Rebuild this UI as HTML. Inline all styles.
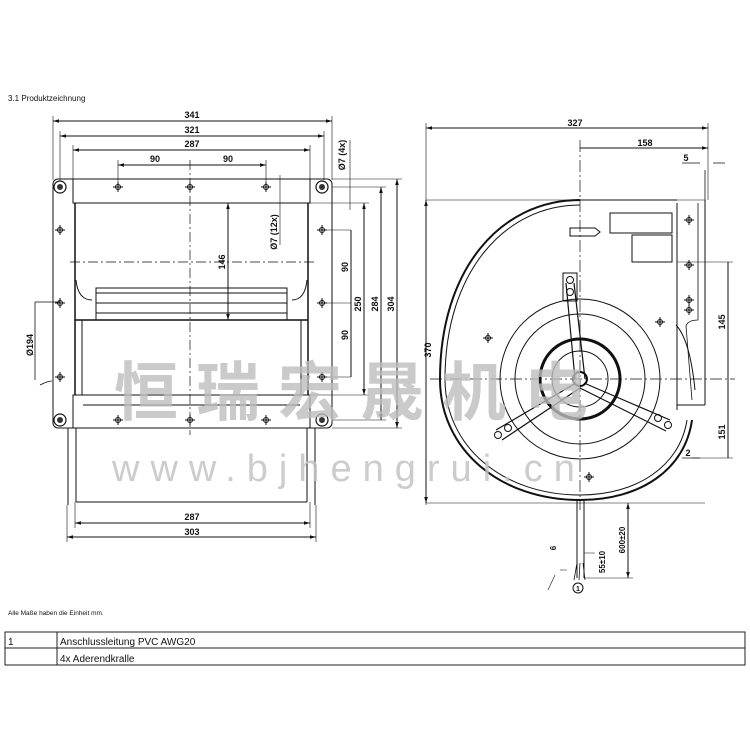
<!DOCTYPE html>
<html><head><meta charset="utf-8"><style>
body{margin:0;background:#fff}
svg{display:block}
text{font-family:"Liberation Sans",sans-serif;fill:#111}
</style></head><body>
<svg width="750" height="750" viewBox="0 0 750 750" xmlns="http://www.w3.org/2000/svg">
<defs>
<marker id="a" viewBox="0 0 10 10" refX="10" refY="5" markerWidth="6" markerHeight="6" orient="auto-start-reverse"><path d="M0,2 L10,5 L0,8 z" fill="#111"/></marker>
<g id="x"><circle r="2.5" fill="none" stroke="#111" stroke-width="1"/><path d="M-5,0H5M0,-5V5" stroke="#111" stroke-width="1"/></g>
<g id="g"><circle r="6" fill="none" stroke="#111" stroke-width="1.2"/><circle r="3" fill="#333"/></g>
</defs>
<text x="8" y="101" font-size="8" fill="#444">3.1 Produktzeichnung</text>
<g stroke="#111" stroke-width="1" fill="none">
<rect x="53" y="179" width="279" height="249" rx="5"/>
<rect x="73" y="179" width="237" height="24"/>
<rect x="73" y="395" width="237" height="33"/>
<line x1="83" y1="405" x2="300" y2="405"/>
<line x1="75" y1="203" x2="75" y2="395" stroke-width="1.5"/>
<line x1="308" y1="203" x2="308" y2="395" stroke-width="1.5"/>
<line x1="75" y1="320" x2="308" y2="320" stroke-width="1.5"/>
<rect x="96" y="288" width="191" height="32"/>
<line x1="96" y1="293" x2="287" y2="293"/>
<line x1="96" y1="303" x2="287" y2="303"/>
<line x1="96" y1="313" x2="287" y2="313"/>
<path d="M76,280 Q78,300 92,300 M307,280 Q305,300 292,300"/>
<line x1="68" y1="428" x2="68" y2="505"/><line x1="76" y1="428" x2="76" y2="502"/>
<line x1="307" y1="428" x2="307" y2="502"/><line x1="315" y1="428" x2="315" y2="505"/>
<line x1="76" y1="502" x2="307" y2="502"/>
<line x1="82" y1="320" x2="82" y2="395"/><line x1="301" y1="320" x2="301" y2="395"/>
<path d="M190,160V435M70,262H315" stroke-dasharray="10,3,2,3" stroke-width="0.7"/>
<path d="M53,121H332" marker-start="url(#a)" marker-end="url(#a)"/>
<path d="M60,136H324" marker-start="url(#a)" marker-end="url(#a)"/>
<path d="M73,150H310" marker-start="url(#a)" marker-end="url(#a)"/>
<path d="M118,165H266" marker-start="url(#a)" marker-end="url(#a)"/>
<path d="M53,116V180M332,116V180M60,131V180M324,131V180M73,145V180M310,145V180M118,160V183M266,160V183" stroke-width="0.6"/>
<path d="M75,523H310" marker-start="url(#a)" marker-end="url(#a)"/>
<path d="M67,537H316" marker-start="url(#a)" marker-end="url(#a)"/>
<path d="M67,505V542M316,505V542M75,502V528M310,502V528" stroke-width="0.6"/>
<path d="M228,203V320" marker-start="url(#a)" marker-end="url(#a)"/>
<path d="M351,230V377" /><path d="M322,230H351M322,303H351M322,377H351" stroke-width="0.6"/>
<path d="M364,203V395" marker-start="url(#a)" marker-end="url(#a)"/>
<path d="M381,187V420" marker-start="url(#a)" marker-end="url(#a)"/>
<path d="M397,179V428" marker-start="url(#a)" marker-end="url(#a)"/>
<path d="M310,203H369M310,395H369M332,187H386M332,420H386M332,179H402M332,428H402" stroke-width="0.6"/>
<path d="M350,140V210M280,175V245" stroke-width="0.6"/>
<path d="M35,302V380M35,302H60" stroke-width="0.8"/>
<path d="M40,385 q8,-4 12,-4" stroke-width="0.8"/>
</g>
<g>
<use href="#x" x="118" y="187"/><use href="#x" x="190" y="187"/><use href="#x" x="266" y="187"/>
<use href="#x" x="118" y="420"/><use href="#x" x="190" y="420"/><use href="#x" x="266" y="420"/>
<use href="#x" x="60" y="230"/><use href="#x" x="322" y="230"/><use href="#x" x="60" y="303"/><use href="#x" x="322" y="303"/><use href="#x" x="60" y="377"/><use href="#x" x="322" y="377"/>
<use href="#g" x="60" y="187"/><use href="#g" x="322" y="187"/><use href="#g" x="60" y="420"/><use href="#g" x="322" y="420"/>
</g>
<g font-size="9" text-anchor="middle" font-weight="bold">
<text x="192" y="118">341</text><text x="192" y="133">321</text><text x="192" y="147">287</text>
<text x="155" y="162">90</text><text x="228" y="162">90</text>
<text x="192" y="520">287</text><text x="192" y="535">303</text>
<text transform="translate(225,262) rotate(-90)">146</text>
<text transform="translate(348,267) rotate(-90)">90</text>
<text transform="translate(348,335) rotate(-90)">90</text>
<text transform="translate(361,304) rotate(-90)">250</text>
<text transform="translate(378,304) rotate(-90)">284</text>
<text transform="translate(394,304) rotate(-90)">304</text>
<text transform="translate(345,155) rotate(-90)">Ø7 (4x)</text>
<text transform="translate(277,232) rotate(-90)">Ø7 (12x)</text>
<text transform="translate(33,345) rotate(-90)">Ø194</text>
</g>
<g stroke="#111" stroke-width="1" fill="none">
<path d="M426,200H705M426,503H705" stroke-width="0.6"/>
<path d="M580,200 C500,200 440,270 440,379 C440,450 500,500 580,500 C640,500 685,470 692,420" stroke-width="2"/>
<path d="M580,205 C505,205 445,272 445,379 C445,447 503,495 580,495 C637,495 680,466 687,420"/>
<path d="M580,200H677"/>
<path d="M677,203V410 M705,200V405 M677,405H705"/>
<path d="M698,203V320 q-10,0 -12,6 L692,400" stroke-width="0.8"/>
<path d="M676,325 Q690,340 695,390"/>
<rect x="610" y="213" width="62" height="20"/><rect x="632" y="235" width="40" height="27"/>
<circle cx="580" cy="379" r="80"/><circle cx="580" cy="379" r="65"/>
<circle cx="580" cy="379" r="40" stroke-width="3"/><circle cx="580" cy="379" r="28"/><circle cx="580" cy="379" r="7" stroke-width="2"/>
<path d="M575,379 L566,283 M585,379 L574,283" stroke-width="1.2"/>
<path d="M576,383 L496,430 M580,388 L502,440" stroke-width="1.2"/>
<path d="M584,383 L670,420 M580,388 L666,431" stroke-width="1.2"/>
<rect x="563" y="273" width="14" height="28"/>
<circle cx="570" cy="280" r="3.5"/><circle cx="570" cy="292" r="3.5"/>
<circle cx="498" cy="435" r="3.5"/><circle cx="508" cy="428" r="3.5"/>
<circle cx="668" cy="425" r="3.5"/><circle cx="658" cy="418" r="3.5"/>
<path d="M580,140V510 M430,379H735" stroke-dasharray="12,3,2,3" stroke-width="0.7"/>
<path d="M570,228H595l5,4l-5,4H570z"/>
<path d="M426,128H708" marker-start="url(#a)" marker-end="url(#a)"/>
<path d="M580,148H708" marker-end="url(#a)"/>
<path d="M426,123V505M708,123V200" stroke-width="0.6"/>
<path d="M682,163H700M713,163H725M705,170V200" stroke-width="0.8"/>
<path d="M728,262V458" /><path d="M677,262H733M692,458H733" stroke-width="0.6"/>
<path d="M682,458H700" stroke-width="0.8"/>
<path d="M426,200V503" marker-start="url(#a)" marker-end="url(#a)"/>
<path d="M577,500V578M584,500V578" stroke-width="1"/>
<path d="M628,503V578" marker-start="url(#a)" marker-end="url(#a)"/>
<path d="M584,578H633M584,553H595" stroke-width="0.6"/>
<path d="M577,563L574,580M580,563L579,580M583,563L585,580" stroke-width="0.8"/>
<path d="M555,575L548,590M560,570L567,570" stroke-width="0.6"/>
<circle cx="578" cy="588" r="5"/>
</g>
<g>
<use href="#x" x="689" y="220"/><use href="#x" x="689" y="265"/><use href="#x" x="689" y="300"/><use href="#x" x="689" y="310"/>
<use href="#x" x="660" y="322"/><use href="#x" x="488" y="338"/><use href="#x" x="589" y="477"/>
</g>
<g font-size="9" text-anchor="middle" font-weight="bold">
<text x="575" y="126">327</text><text x="645" y="146">158</text><text x="686" y="161">5</text>
<text x="688" y="456">2</text>
<text transform="translate(725,322) rotate(-90)">145</text>
<text transform="translate(725,432) rotate(-90)">151</text>
<text transform="translate(431,350) rotate(-90)">370</text>
<text transform="translate(625,540) rotate(-90)" font-size="8">600±20</text>
<text transform="translate(605,562) rotate(-90)" font-size="8">55±10</text>
<text transform="translate(556,548) rotate(-90)" font-size="8">6</text>
<text x="578" y="591" font-size="7">1</text>
</g>
<text x="114" y="415" font-size="64" font-weight="bold" opacity="0.8" style="font-family:'Noto Sans CJK SC',sans-serif;fill:#bdbdbd" letter-spacing="18">恒瑞宏晟机电</text>
<text x="112" y="481" font-size="38" style="fill:#c4c4c4" opacity="0.85" letter-spacing="11">www.bjhengrui.cn</text>
<text x="8" y="615" font-size="6.5" fill="#333">Alle Maße haben die Einheit mm.</text>
<g stroke="#222" stroke-width="1" fill="none">
<rect x="5" y="632" width="740" height="33"/>
<line x1="5" y1="648" x2="745" y2="648"/>
<line x1="57" y1="632" x2="57" y2="665"/>
</g>
<text x="8" y="645" font-size="10">1</text>
<text x="60" y="645" font-size="10">Anschlussleitung PVC AWG20</text>
<text x="60" y="662" font-size="10">4x Aderendkralle</text>
</svg>
</body></html>
